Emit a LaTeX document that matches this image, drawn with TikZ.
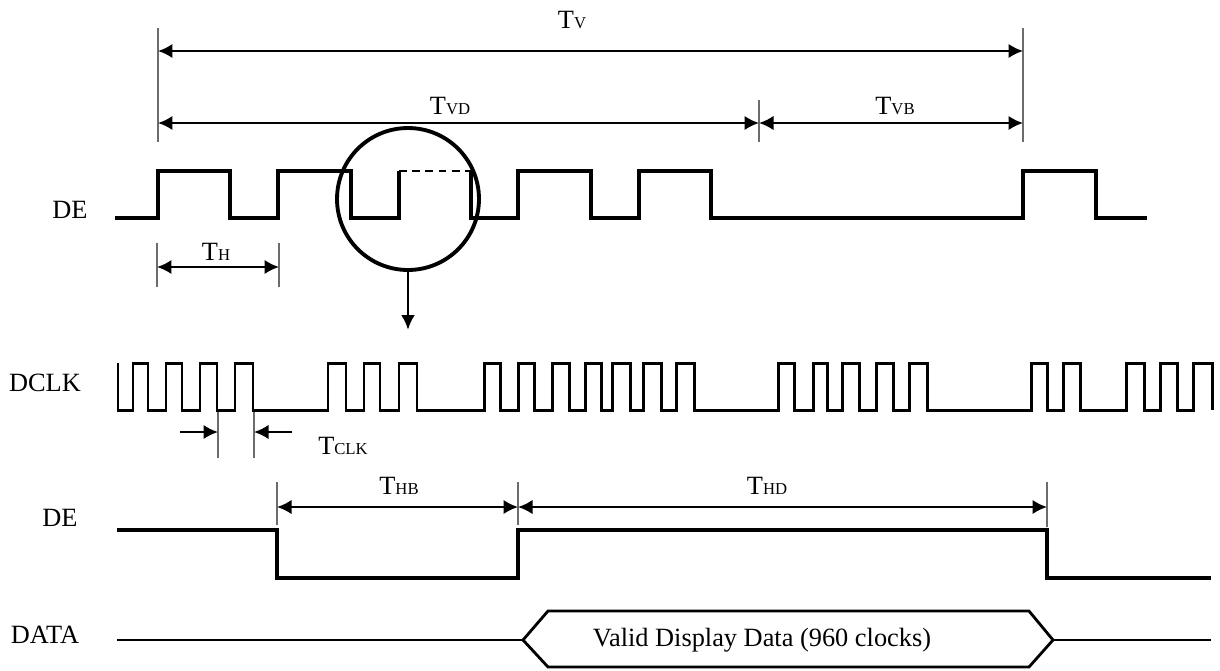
\documentclass[tikz,border=0pt]{standalone}
\usepackage{fontspec}
\setmainfont{Liberation Serif}
\usetikzlibrary{arrows.meta}

\newcommand{\tlab}[1]{T\raisebox{-0.4pt}{\fontsize{9.5}{11}\selectfont #1}}

\begin{document}
\begin{tikzpicture}[x=0.02cm, y=-0.02cm, line width=1.4pt,
  wave/.style={line width=2.2pt, line join=miter},
  clk/.style={line width=1.7pt, line join=miter},
  dim/.style={line width=1.4pt, {Latex[length=2.9mm,width=2.9mm]}-{Latex[length=2.9mm,width=2.9mm]}},
  half/.style={line width=1.4pt, -{Latex[length=2.9mm,width=2.9mm]}},
  tick/.style={line width=1.2pt, gray!85!black},
  sig/.style={font=\fontsize{15}{18}\selectfont},
  lbl/.style={font=\fontsize{15}{18}\selectfont, inner sep=1pt}]
  \useasboundingbox (0,0) rectangle (1220,670);

  \foreach \x/\a/\b in {158/28/142, 1023/28/142, 759/100/142, 157/243/287, 279/243/287,
                        218/410/458, 254/410/458, 277/482/525, 518/482/525, 1047/482/527}
    { \draw[tick] (\x,\a) -- (\x,\b); }

  \coordinate (v0) at (158,51);
  \coordinate (v1) at (1023,51);
  \coordinate (vd0) at (158,123);
  \coordinate (vd1) at (759,123);
  \coordinate (vb1) at (1023,123);
  \coordinate (h0) at (157,267);
  \coordinate (h1) at (279,267);
  \coordinate (ck0) at (180,432);
  \coordinate (ck1) at (218,432);
  \coordinate (ck2) at (292,432);
  \coordinate (ck3) at (254,432);
  \coordinate (hb0) at (277,507);
  \coordinate (hb1) at (518,507);
  \coordinate (hd1) at (1047,507);
  \draw[dim] (v0) -- (v1);
  \draw[dim] (vd0) -- (vd1);
  \draw[dim] (vd1) -- (vb1);
  \draw[dim] (h0) -- (h1);
  \draw[half] (ck0) -- (ck1);
  \draw[half] (ck2) -- (ck3);
  \draw[dim] (hb0) -- (hb1);
  \draw[dim] (hb1) -- (hd1);

  \node[lbl] (tv) at (572,20) {\tlab{V}};
  \node[lbl] (tvd) at (450,106) {\tlab{VD}};
  \node[lbl] (tvb) at (895,106) {\tlab{VB}};
  \node[lbl] (th) at (216,252) {\tlab{H}};
  \node[lbl] (tclk) at (343,446) {\tlab{CLK}};
  \node[lbl] (thb) at (399,486) {\tlab{HB}};
  \node[lbl] (thd) at (767,486) {\tlab{HD}};

  \node[sig] (de1) at (70,210) {DE};
  \node[sig] (dclk) at (45,383) {DCLK};
  \node[sig] (de2) at (60,518) {DE};
  \node[sig] (data) at (45,635) {DATA};

  \draw[wave] (115,218) \foreach \a/\b in {158/230, 278/351}
    { -- (\a,218) -- (\a,171) -- (\b,171) -- (\b,218) } -- (399,218) -- (399,171);
  \draw[line width=1pt, dash pattern=on 4.5pt off 3pt] (399,171) -- (471,171);
  \draw[wave] (471,171) -- (471,218) \foreach \a/\b in {518/591, 639/711, 1023/1096}
    { -- (\a,218) -- (\a,171) -- (\b,171) -- (\b,218) } -- (1147,218);

  \node[draw, circle, line width=2.2pt, minimum size=2.84cm, inner sep=0pt] (lens) at (408,199) {};
  \coordinate (lensdown) at (408,330);
  \draw[line width=1.7pt, -{Latex[length=3mm,width=2.8mm]}] (lens.south) -- (lensdown);

  \draw[clk] (118,363) -- (118,410) \foreach \a/\b in {133/148, 166/182, 200/217, 235/253,
      328/346, 364/380, 399/417, 484/500, 518/534, 552/569, 585/601, 612/630, 643/661,
      676/694, 778/794, 813/827, 842/859, 876/893, 909/927, 1031/1047, 1063/1080,
      1126/1144, 1160/1177, 1193/1212}
    { -- (\a,410) -- (\a,363) -- (\b,363) -- (\b,410) };

  \draw[wave] (117,530) -- (277,530) -- (277,578) -- (518,578) -- (518,530)
    -- (1047,530) -- (1047,578) -- (1211,578);

  \node[sig] (valid) at (762,640) {Valid Display Data (960 clocks)};
  \coordinate (bus0) at (523,640);
  \coordinate (bus1) at (1053,640);
  \draw[line width=1.6pt, line join=miter] (bus0) -- (548,611) -- (1029,611) -- (bus1)
    -- (1029,667) -- (548,667) -- cycle;
  \draw[line width=1.6pt] (117,640) -- (bus0);
  \draw[line width=1.6pt] (bus1) -- (1211,640);
\end{tikzpicture}
\end{document}
